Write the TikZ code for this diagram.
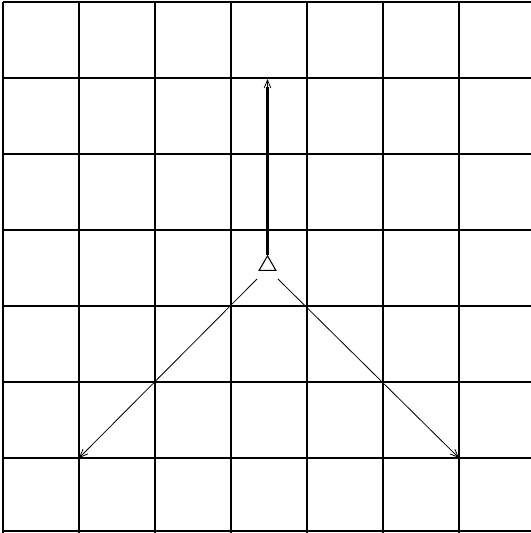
\documentclass[tikz,border=0pt]{standalone}
\usetikzlibrary{arrows.meta,shapes.geometric}
\begin{document}
\begin{tikzpicture}[x=0.75pt,y=-0.75pt,
  gridline/.style={line width=2pt,black},
  tri/.style={draw,regular polygon,regular polygon sides=3,minimum size=14.5pt,inner sep=0pt,line width=0.8pt},
  barb/.style={-{Straight Barb[length=6pt,width=5pt,line width=0.6pt]}},
  thinline/.style={line width=0.6pt},
  stem/.style={line width=1.8pt}]
\useasboundingbox (0,0) rectangle (531,533);
\begin{scope}
\clip (0,0) rectangle (531,533);
\foreach \x in {3,79,155,231,307,383,459} \draw[gridline] (\x,2) -- (\x,535);
\foreach \y in {2,78,154,230,306,382,458,531} \draw[gridline] (3,\y) -- (535,\y);
\end{scope}
\node[tri] (t) at (267.5,265.5) {};
\coordinate (top) at (267.5,79);
\coordinate (ls) at (257,279);
\coordinate (le) at (79,458);
\coordinate (rs) at (278,279);
\coordinate (re) at (459,458);
\draw[stem] (t.corner 1) -- ([yshift=-6pt]top);
\draw[thinline,barb] ([yshift=-9pt]top) -- (top);
\draw[thinline,barb] (ls) -- (le);
\draw[thinline,barb] (rs) -- (re);
\end{tikzpicture}
\end{document}
